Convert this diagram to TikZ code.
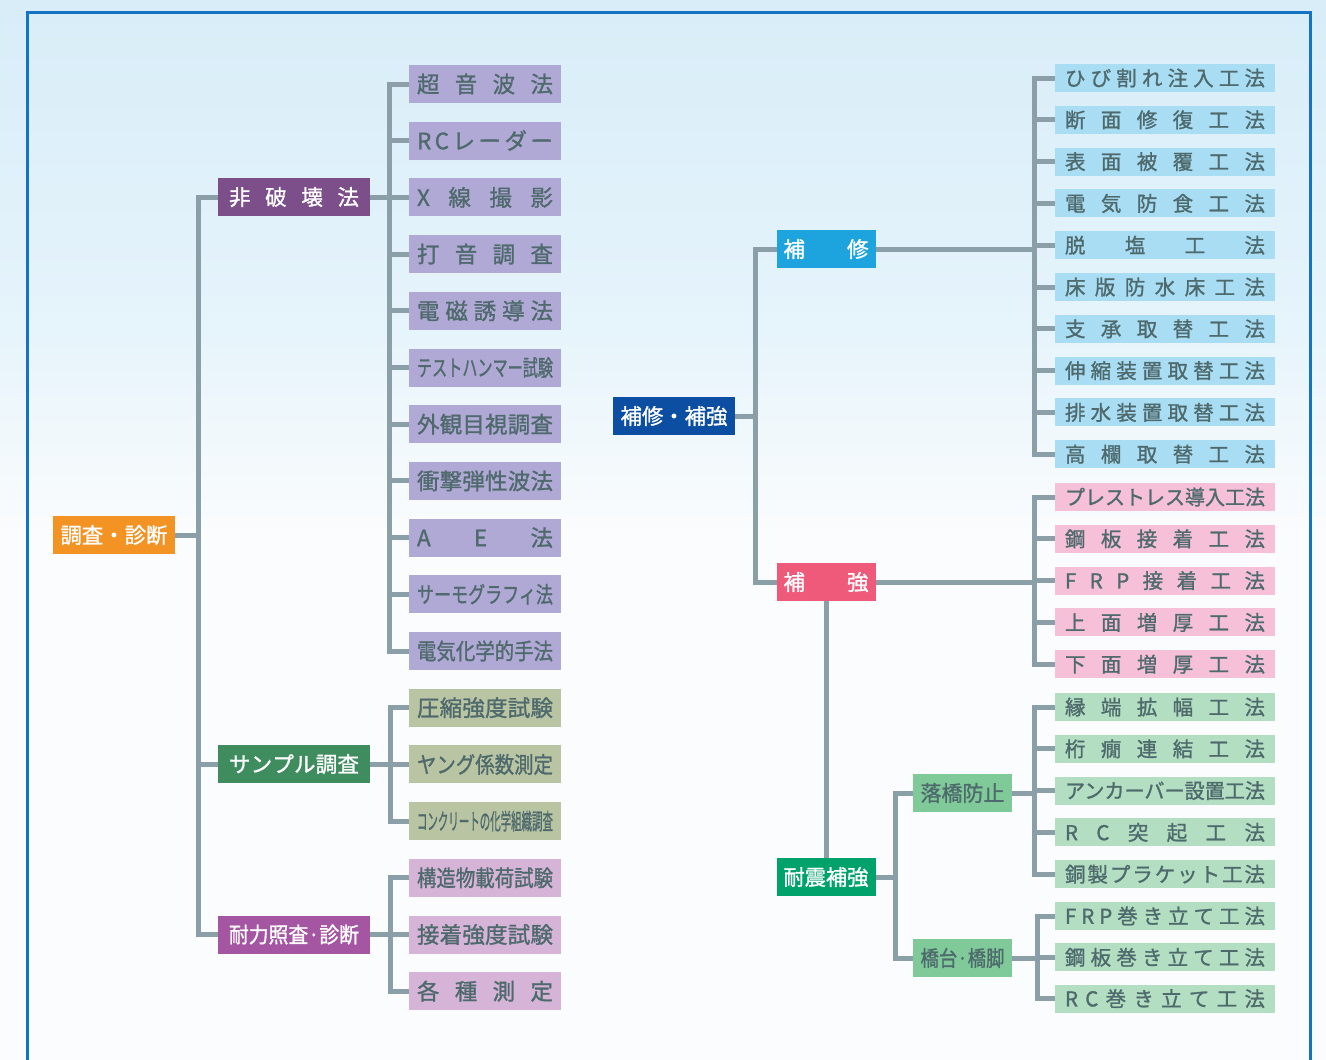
\documentclass[tikz,border=0pt]{standalone}
\usepackage{fontspec}
\usepackage{graphicx}
\newfontfamily\jp{Noto Sans CJK JP}[FakeBold=1.2]

% colours
\definecolor{skytop}{HTML}{D8EDF8}
\definecolor{skymid}{HTML}{E6F4FB}
\definecolor{skylow}{HTML}{FBFCFD}
\definecolor{frameblue}{HTML}{1473C2}
\definecolor{conn}{HTML}{8B9FA8}
\definecolor{txdark}{HTML}{4E6A6C}
\definecolor{cOrange}{HTML}{F39324}
\definecolor{cPurple}{HTML}{7C4F8A}
\definecolor{cLavender}{HTML}{B0A9D5}
\definecolor{cGreenDk}{HTML}{3F8D5F}
\definecolor{cSage}{HTML}{B9C4A3}
\definecolor{cMagenta}{HTML}{A456A2}
\definecolor{cOrchid}{HTML}{D5B4D7}
\definecolor{cNavy}{HTML}{0B4EA2}
\definecolor{cCyan}{HTML}{1DA4DE}
\definecolor{cRose}{HTML}{EF5A7B}
\definecolor{cEmerald}{HTML}{00A26B}
\definecolor{cMint}{HTML}{80CA9A}
\definecolor{cSkyItem}{HTML}{A9DDF4}
\definecolor{cPinkItem}{HTML}{F7C0D9}
\definecolor{cGreenItem}{HTML}{B3DEC2}

% spread characters evenly over a box, or squeeze a long label to fit
\makeatletter
\def\spreadtext#1{\spread@loop#1\spread@end}
\def\spread@loop#1#2\spread@end{#1\if\relax\detokenize{#2}\relax\else\hfill\spread@loop#2\spread@end\fi}
\makeatother
\newsavebox\fitsave
\newcommand\fitbox[2]{\sbox\fitsave{#2}\ifdim\wd\fitsave>#1\relax\resizebox{#1}{\height}{#2}\else\hbox to #1{\spreadtext{#2}}\fi}

\tikzset{
  every node/.style={inner sep=0pt, outer sep=0pt},
  tag/.style={rectangle, fill=#1},
  headL/.style={tag=#1, minimum width=152pt, minimum height=38pt, text=white,
    font=\jp\fontsize{21.5}{21.5}\selectfont, text height=16.3pt, text depth=0pt},
  headM/.style={tag=#1, minimum width=99pt, minimum height=38pt, text=white,
    font=\jp\fontsize{21.5}{21.5}\selectfont, text height=16.3pt, text depth=0pt},
  headR/.style={tag=#1, minimum width=122pt, minimum height=38pt, text=white,
    font=\jp\fontsize{21.5}{21.5}\selectfont, text height=16.3pt, text depth=0pt},
  itemL/.style={tag=#1, minimum width=152pt, minimum height=38pt, text=txdark,
    font=\jp\fontsize{22.5}{22.5}\selectfont, text height=17.1pt, text depth=0pt},
  itemR/.style={tag=#1, minimum width=220pt, minimum height=28pt, text=txdark,
    font=\jp\fontsize{20.5}{20.5}\selectfont, text height=15.6pt, text depth=0pt},
  link/.style={draw=conn, line width=5pt, line join=miter},
}

\newcommand\Lt[1]{\fitbox{136pt}{#1}}
\newcommand\Rt[1]{\fitbox{200pt}{#1}}

\begin{document}
\begin{tikzpicture}[x=1pt, y=-1pt]
  \useasboundingbox (0,0) rectangle (1326,1060);

  % sky background
  \fill[skylow] (0,0) rectangle (1326,1060);
  \shade[top color=skytop, bottom color=skymid] (0,0) rectangle (1326,330);
  \shade[top color=skymid, bottom color=skylow] (0,330) rectangle (1326,540);

  % frame
  \draw[frameblue, line width=3pt] (27,1062) -- (27,12) -- (1310,12) -- (1310,1062);

  % ---------- survey and diagnosis ----------
  \node[headR=cOrange] (root) at (114,535) {\fitbox{107pt}{調査・診断}};

  \node[headL=cPurple]   (ndt)  at (294,197)   {\fitbox{130pt}{非破壊法}};
  \node[headL=cGreenDk]  (smp)  at (294,764)   {\fitbox{130pt}{サンプル調査}};
  \node[headL=cMagenta]  (cap)  at (294,934.5) {\fitbox{130pt}{耐力照査·診断}};

  \node[itemL=cLavender] (n1)  at (485,84)    {\Lt{超音波法}};
  \node[itemL=cLavender] (n2)  at (485,140.7) {\Lt{RCレーダー}};
  \node[itemL=cLavender] (n3)  at (485,197.4) {\Lt{X線撮影}};
  \node[itemL=cLavender] (n4)  at (485,254.1) {\Lt{打音調査}};
  \node[itemL=cLavender] (n5)  at (485,310.8) {\Lt{電磁誘導法}};
  \node[itemL=cLavender] (n6)  at (485,367.5) {\Lt{テストハンマー試験}};
  \node[itemL=cLavender] (n7)  at (485,424.2) {\Lt{外観目視調査}};
  \node[itemL=cLavender] (n8)  at (485,480.9) {\Lt{衝撃弾性波法}};
  \node[itemL=cLavender] (n9)  at (485,537.6) {\Lt{AE法}};
  \node[itemL=cLavender] (n10) at (485,594.3) {\Lt{サーモグラフィ法}};
  \node[itemL=cLavender] (n11) at (485,651)   {\Lt{電気化学的手法}};

  \node[itemL=cSage] (s1) at (485,707.7) {\Lt{圧縮強度試験}};
  \node[itemL=cSage] (s2) at (485,764.4) {\Lt{ヤング係数測定}};
  \node[itemL=cSage] (s3) at (485,821.1) {\Lt{コンクリートの化学組織調査}};

  \node[itemL=cOrchid] (t1) at (485,877.8) {\Lt{構造物載荷試験}};
  \node[itemL=cOrchid] (t2) at (485,934.5) {\Lt{接着強度試験}};
  \node[itemL=cOrchid] (t3) at (485,991.2) {\Lt{各種測定}};

  \coordinate (jRoot) at (198,0);
  \coordinate (jNdt)  at (389,0);
  \coordinate (jSmp)  at (390,0);

  \foreach \c in {ndt,smp,cap}
    \draw[link] (root.east) -- (root.east -| jRoot) |- (\c.west);
  \foreach \c in {n1,n2,n3,n4,n5,n6,n7,n8,n9,n10,n11}
    \draw[link] (ndt.east) -- (ndt.east -| jNdt) |- (\c.west);
  \foreach \c in {s1,s2,s3}
    \draw[link] (smp.east) -- (smp.east -| jSmp) |- (\c.west);
  \foreach \c in {t1,t2,t3}
    \draw[link] (cap.east) -- (cap.east -| jSmp) |- (\c.west);

  % ---------- repair and strengthening ----------
  \node[headR=cNavy] (rr) at (674,416) {\fitbox{107pt}{補修・補強}};

  \node[headM=cCyan]    (rep) at (826,249) {\fitbox{85pt}{補修}};
  \node[headM=cRose]    (str) at (826,582) {\fitbox{85pt}{補強}};
  \node[headM=cEmerald] (eq)  at (826,877) {\fitbox{85pt}{耐震補強}};

  \node[headM=cMint, text=txdark] (fall) at (962.5,793) {\fitbox{84pt}{落橋防止}};
  \node[headM=cMint, text=txdark] (pier) at (962.5,958) {\fitbox{84pt}{橋台·橋脚}};

  \node[itemR=cSkyItem] (r1)  at (1165,78)    {\Rt{ひび割れ注入工法}};
  \node[itemR=cSkyItem] (r2)  at (1165,119.8) {\Rt{断面修復工法}};
  \node[itemR=cSkyItem] (r3)  at (1165,161.6) {\Rt{表面被覆工法}};
  \node[itemR=cSkyItem] (r4)  at (1165,203.4) {\Rt{電気防食工法}};
  \node[itemR=cSkyItem] (r5)  at (1165,245.2) {\Rt{脱塩工法}};
  \node[itemR=cSkyItem] (r6)  at (1165,287)   {\Rt{床版防水床工法}};
  \node[itemR=cSkyItem] (r7)  at (1165,328.8) {\Rt{支承取替工法}};
  \node[itemR=cSkyItem] (r8)  at (1165,370.6) {\Rt{伸縮装置取替工法}};
  \node[itemR=cSkyItem] (r9)  at (1165,412.4) {\Rt{排水装置取替工法}};
  \node[itemR=cSkyItem] (r10) at (1165,454.2) {\Rt{高欄取替工法}};

  \node[itemR=cPinkItem] (p1) at (1165,497)   {\Rt{プレストレス導入工法}};
  \node[itemR=cPinkItem] (p2) at (1165,538.8) {\Rt{鋼板接着工法}};
  \node[itemR=cPinkItem] (p3) at (1165,580.6) {\Rt{FRP接着工法}};
  \node[itemR=cPinkItem] (p4) at (1165,622.4) {\Rt{上面増厚工法}};
  \node[itemR=cPinkItem] (p5) at (1165,664.2) {\Rt{下面増厚工法}};

  \node[itemR=cGreenItem] (g1) at (1165,707)   {\Rt{縁端拡幅工法}};
  \node[itemR=cGreenItem] (g2) at (1165,748.8) {\Rt{桁癇連結工法}};
  \node[itemR=cGreenItem] (g3) at (1165,790.6) {\Rt{アンカーバー設置工法}};
  \node[itemR=cGreenItem] (g4) at (1165,832.4) {\Rt{RC突起工法}};
  \node[itemR=cGreenItem] (g5) at (1165,874.2) {\Rt{銅製プラケット工法}};

  \node[itemR=cGreenItem] (b1) at (1165,916)   {\Rt{FRP巻き立て工法}};
  \node[itemR=cGreenItem] (b2) at (1165,957.3) {\Rt{鋼板巻き立て工法}};
  \node[itemR=cGreenItem] (b3) at (1165,998.6) {\Rt{RC巻き立て工法}};

  \coordinate (jRR)  at (755,0);
  \coordinate (jRep) at (1034,0);
  \coordinate (jEq)  at (895,0);
  \coordinate (jPr)  at (1037,0);

  \foreach \c in {rep,str}
    \draw[link] (rr.east) -- (rr.east -| jRR) |- (\c.west);
  \draw[link] (str.south) -- (eq.north);
  \foreach \c in {fall,pier}
    \draw[link] (eq.east) -- (eq.east -| jEq) |- (\c.west);
  \foreach \c in {r1,r2,r3,r4,r5,r6,r7,r8,r9,r10}
    \draw[link] (rep.east) -- (rep.east -| jRep) |- (\c.west);
  \foreach \c in {p1,p2,p3,p4,p5}
    \draw[link] (str.east) -- (str.east -| jRep) |- (\c.west);
  \foreach \c in {g1,g2,g3,g4,g5}
    \draw[link] (fall.east) -- (fall.east -| jRep) |- (\c.west);
  \foreach \c in {b1,b2,b3}
    \draw[link] (pier.east) -- (pier.east -| jPr) |- (\c.west);
\end{tikzpicture}
\end{document}
